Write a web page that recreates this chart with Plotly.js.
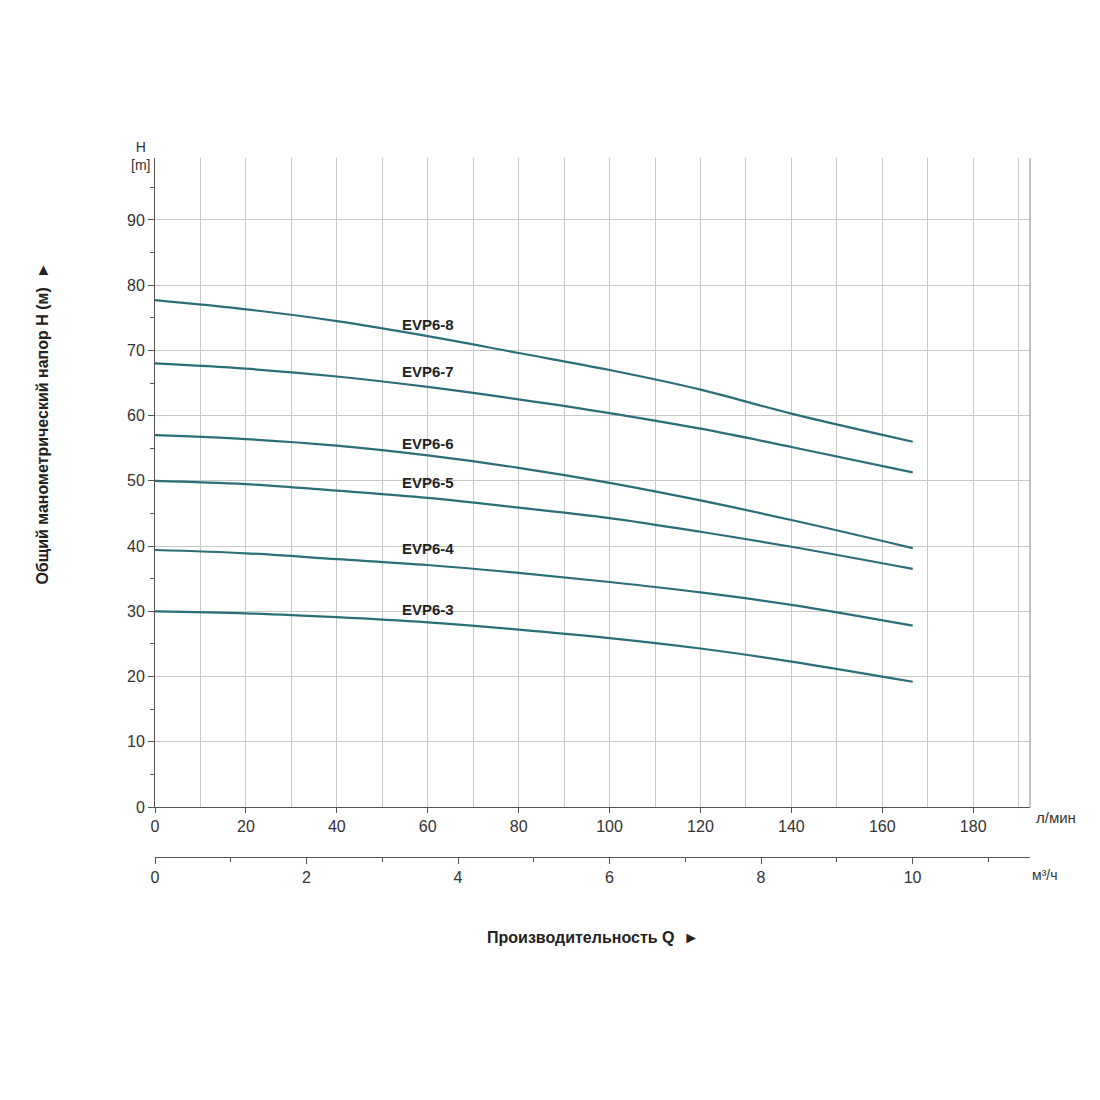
<!DOCTYPE html>
<html><head><meta charset="utf-8">
<script src="https://cdn.plot.ly/plotly-3.0.1.min.js"></script>
<style>body{margin:0;background:#fff}</style>
</head><body>
<div id="chart" style="width:1100px;height:1100px"></div>
<script>
// flow in l/min, head in m
var flow = [0, 20, 40, 60, 80, 100, 120, 140, 166.7];
var names = ["EVP6-8", "EVP6-7", "EVP6-6", "EVP6-5", "EVP6-4", "EVP6-3"];
var heads = [
  [77.7, 76.3, 74.5, 72.2, 69.6, 67.0, 64.0, 60.3, 56.0],
  [68.0, 67.2, 66.0, 64.4, 62.5, 60.4, 58.0, 55.2, 51.3],
  [57.0, 56.4, 55.4, 53.9, 52.0, 49.7, 47.0, 44.0, 39.7],
  [50.0, 49.5, 48.5, 47.4, 45.9, 44.3, 42.2, 39.9, 36.5],
  [39.4, 38.9, 38.0, 37.1, 35.9, 34.5, 32.9, 31.0, 27.8],
  [30.0, 29.7, 29.1, 28.3, 27.2, 25.9, 24.3, 22.3, 19.2]
];
var labelX = [60, 60, 60, 60, 60, 60];
var labelY = [74.0, 66.8, 55.7, 49.8, 39.6, 30.3];

var data = [];
for (let i = 0; i < names.length; i++) {
  data.push({x: flow, y: heads[i], mode: "lines", line: {color: "#2b6e78", width: 2.2, shape: "spline"},
    showlegend: false, hoverinfo: "skip"});
}
// dummy trace for the m3/h axis
data.push({x: [0, 10], y: [null, null], xaxis: "x2", mode: "lines", showlegend: false});

var ann = [];
for (let i = 0; i < names.length; i++) {
  ann.push({x: labelX[i], y: labelY[i], text: "<b>" + names[i] + "</b>", showarrow: false,
    xanchor: "center", font: {size: 15, color: "#222"}});
}
ann.push({xref: "paper", yref: "paper", x: -0.03, y: 1.03, text: "H<br>[m]", showarrow: false,
  align: "center", font: {size: 14, color: "#333"}});
ann.push({xref: "paper", yref: "paper", x: 1.005, y: 0.042, xanchor: "left", text: "л/мин", showarrow: false,
  font: {size: 15, color: "#333"}});
ann.push({xref: "paper", yref: "paper", x: 1.0, y: -0.04, xanchor: "left", text: "м³/ч", showarrow: false,
  font: {size: 14, color: "#333"}});
ann.push({xref: "paper", yref: "paper", x: 0.5, y: -0.13, text: "<b>Производительность Q  ►</b>", showarrow: false,
  font: {size: 16, color: "#222"}});
ann.push({xref: "paper", yref: "paper", x: -0.14, y: 0.62, textangle: -90, text: "<b>Общий манометрический напор H (м)  ►</b>",
  showarrow: false, font: {size: 16, color: "#222"}});

var layout = {
  width: 1100, height: 1100,
  margin: {l: 155, r: 70, t: 158, b: 243},
  paper_bgcolor: "#fff", plot_bgcolor: "#fff",
  font: {family: "Liberation Sans, Arial", size: 16, color: "#333"},
  xaxis: {range: [0, 192.5], tickvals: [0, 20, 40, 60, 80, 100, 120, 140, 160, 180],
    showgrid: true, gridcolor: "#c8c8c8", minor: {dtick: 10, tick0: 0, showgrid: true, gridcolor: "#c8c8c8"},
    showline: true, linecolor: "#555", ticks: "outside", ticklen: 5, tickcolor: "#555",
    zeroline: false, mirror: false, fixedrange: true},
  xaxis2: {overlaying: "x", anchor: "free", position: 0, range: [0, 192.5 / 16.667],
    tickvals: [0, 2, 4, 6, 8, 10], showgrid: false, showline: true, linecolor: "#555",
    ticks: "outside", ticklen: 6, tickcolor: "#555", side: "bottom", zeroline: false,
    minor: {dtick: 1, ticks: "outside", ticklen: 4, tickcolor: "#555"}},
  yaxis: {domain: [0.0715, 1], range: [0, 99.5], tickvals: [0, 10, 20, 30, 40, 50, 60, 70, 80, 90],
    showgrid: true, gridcolor: "#c8c8c8", showline: true, linecolor: "#555",
    ticks: "outside", ticklen: 6, tickcolor: "#555", zeroline: false,
    minor: {dtick: 5, ticks: "outside", ticklen: 4, tickcolor: "#555"}},
  shapes: [{type: "line", xref: "paper", yref: "paper", x0: 1, x1: 1, y0: 0.0715, y1: 1,
    line: {color: "#888", width: 1}}],
  annotations: ann
};
Plotly.newPlot("chart", data, layout, {displayModeBar: false, staticPlot: true});
</script>
</body></html>
